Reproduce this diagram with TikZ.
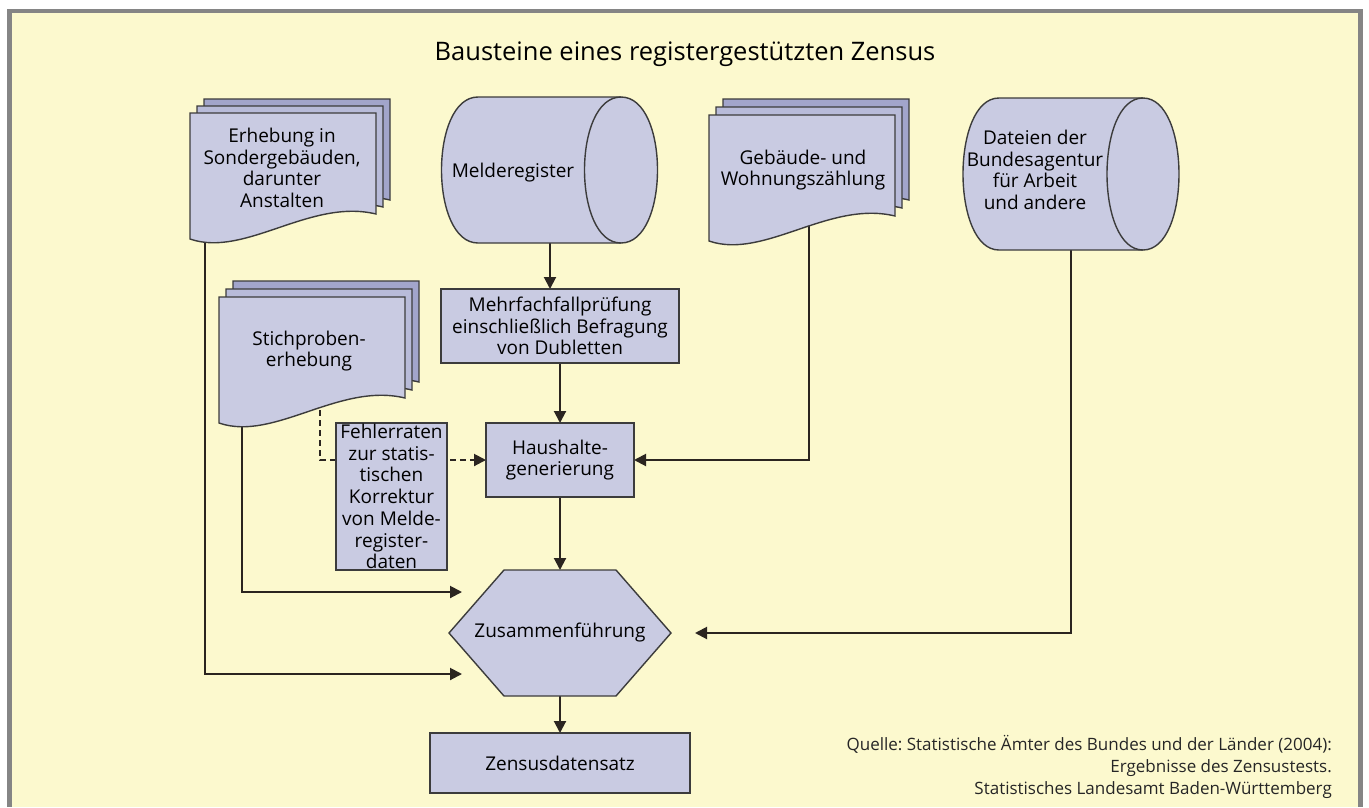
\documentclass[tikz,border=0pt]{standalone}
\usepackage{fontspec}
\setmainfont{Open Sans}
\usetikzlibrary{arrows.meta}
\frenchspacing
\pgfdeclarelayer{bgzero}
\pgfdeclarelayer{bgone}
\pgfsetlayers{bgzero,bgone,main}
\definecolor{bgy}{HTML}{FCF9CE}
\definecolor{frm}{HTML}{858585}
\definecolor{shp}{HTML}{C9CBE2}
\definecolor{shpb}{HTML}{B8BBD9}
\definecolor{shpc}{HTML}{A2A5CB}
\definecolor{outl}{HTML}{3C3C3C}
\definecolor{conn}{HTML}{2B2520}
\newcommand\pgdoc[3]{%
  \begin{scope}[shift={(#1,#2)}]
    \path[shapeline,fill=#3] (0,0) -- (186,0) -- (186,101)
      .. controls (120,85) and (55,145) .. (0,126) -- cycle;
  \end{scope}}
\newcommand\cylshape[5]{% left centre x, right centre x, top y, bottom y, rx
  \pgfmathsetmacro\cyk{1.3333*#5}
  \path[shapeline,fill=shp] (#1,#3) -- (#2,#3)
    .. controls (#2+\cyk,#3) and (#2+\cyk,#4) .. (#2,#4) -- (#1,#4)
    .. controls (#1-\cyk,#4) and (#1-\cyk,#3) .. (#1,#3) -- cycle;
  \path[shapeline] (#2,#3) .. controls (#2-\cyk,#3) and (#2-\cyk,#4) .. (#2,#4);}
\begin{document}
\begin{tikzpicture}[x=1pt,y=-1pt,
  shapeline/.style={draw=outl,line width=1.4pt},
  txt/.style={font=\fontsize{19}{21.7}\selectfont,align=center,inner sep=0pt,text=black},
  bbox/.style={inner sep=0pt,outer sep=0pt},
  boxr/.style={shapeline,fill=shp,inner sep=0pt,outer sep=0pt,
    font=\fontsize{19}{21.7}\selectfont,align=center},
  arr/.style={draw=conn,line width=2pt,-{Triangle[length=12pt,width=12pt]}},
  dsh/.style={dash pattern=on 6pt off 4pt}]
\useasboundingbox (0,0) rectangle (1369,807);
\begin{pgfonlayer}{bgzero}
  \fill[white] (0,0) rectangle (1369,807);
  \fill[frm] (7,9) rectangle (1363,807);
  \fill[bgy] (12,13) rectangle (1358,807);
\end{pgfonlayer}

\node[font=\fontsize{25.5}{30}\selectfont,inner sep=0pt] (title) at (685,54)
  {Bausteine eines registergestützten Zensus};

% Erhebung in Sondergebaeuden
\pgdoc{204}{99}{shpc}
\pgdoc{197}{106}{shpb}
\pgdoc{190}{113}{shp}
\node[txt] (erh) at (282,168) {Erhebung in\\Sondergebäuden,\\darunter\\Anstalten};
\coordinate (erhb) at (205,200);

% Melderegister
\cylshape{478}{621}{97}{243}{36.5}
\node[bbox,minimum width=216pt,minimum height=146pt] (mel) at (550,170) {};
\node[txt] (meltxt) at (513,173) {Melderegister};

% Gebaeude- und Wohnungszaehlung
\pgdoc{723}{99}{shpc}
\pgdoc{716}{107}{shpb}
\pgdoc{709}{115}{shp}
\node[txt] (geb) at (803,170) {Gebäude- und\\Wohnungszählung};
\coordinate (gebb) at (809,200);

% Dateien der Bundesagentur
\cylshape{999}{1143}{98}{250}{36}
\node[bbox,minimum width=216pt,minimum height=152pt] (dat) at (1071,174) {};
\node[txt] (dattxt) at (1035,170) {Dateien der\\Bundesagentur\\für Arbeit\\und andere};

% Stichprobenerhebung
\pgdoc{233}{281}{shpc}
\pgdoc{226}{289}{shpb}
\pgdoc{219}{297}{shp}
\node[txt] (stich) at (309,351) {Stichproben-\\erhebung};
\coordinate (stichd) at (320,380);
\coordinate (stichs) at (242,380);

% Boxes
\node[boxr,minimum width=238pt,minimum height=74pt] (mehr) at (560,326)
  {Mehrfachfallprüfung\\einschließlich Befragung\\von Dubletten};
\node[boxr,minimum width=148pt,minimum height=74pt] (haus) at (560,460)
  {Haushalte-\\generierung};
\node[boxr,minimum width=260pt,minimum height=60pt] (zen) at (560,763)
  {Zensusdatensatz};

% Zusammenfuehrung (hexagon)
\path[shapeline,fill=shp] (504,570) -- (616,570) -- (671,633) -- (616,696)
  -- (504,696) -- (449,633) -- cycle;
\node[bbox,minimum width=222pt,minimum height=126pt,
  font=\fontsize{19}{21.7}\selectfont] (zus) at (560,633) {Zusammenführung};
\coordinate (zlone) at (462,592);
\coordinate (zltwo) at (462,674);
\coordinate (zr) at (695,633);

% Fehlerraten box (covers dashed line)
\node[boxr,minimum width=111pt,minimum height=147pt] (fehl) at (391.5,496.5)
  {Fehlerraten\\zur statis-\\tischen\\Korrektur\\von Melde-\\register-\\daten};

% Source
\node[anchor=north east,align=right,inner sep=0pt,text=black!85,
  font=\fontsize{17}{22}\selectfont] (quelle) at (1332,735)
  {Quelle: Statistische Ämter des Bundes und der Länder (2004):\\
   Ergebnisse des Zensustests.\\
   Statistisches Landesamt Baden-Württemberg};

% Connectors
\begin{pgfonlayer}{bgone}
  \draw[arr] (mel.south) -- (mel.south |- mehr.north);
  \draw[arr] (mehr.south) -- (haus.north);
  \draw[arr] (gebb) |- (haus.east);
  \draw[arr,dsh] (stichd) |- (haus.west);
  \draw[arr] (stichs) |- (zlone);
  \draw[arr] (erhb) |- (zltwo);
  \draw[arr] (haus.south) -- (zus.north);
  \draw[arr] (dat.south) |- (zr);
  \draw[arr] (zus.south) -- (zen.north);
\end{pgfonlayer}
\end{tikzpicture}
\end{document}
